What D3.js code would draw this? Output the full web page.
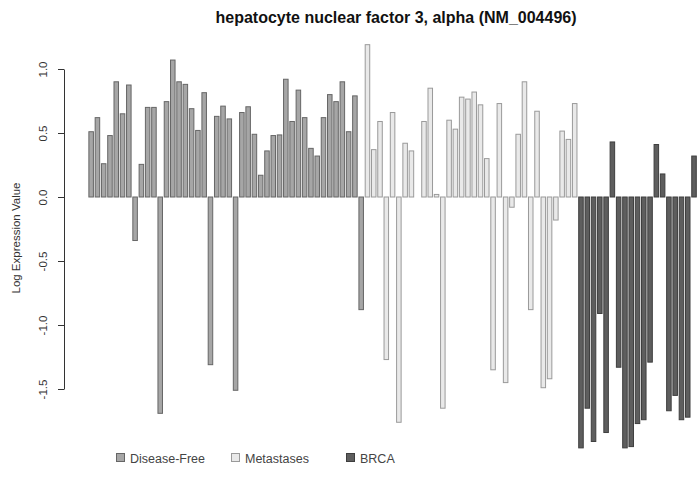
<!DOCTYPE html>
<html>
<head>
<meta charset="utf-8">
<script src="https://cdn.jsdelivr.net/npm/d3@7"></script>
<style>
  html, body { margin: 0; padding: 0; background: #fff; }
  svg { display: block; font-family: "Liberation Sans", Arial, sans-serif; }
</style>
</head>
<body>
<svg id="chart" width="698" height="477"></svg>
<script>
// Log expression values per sample, in plotting order
const diseaseFree = [
  0.51, 0.62, 0.26, 0.48, 0.90, 0.65, 0.875, -0.34, 0.255, 0.70,
  0.70, -1.69, 0.745, 1.07, 0.90, 0.88, 0.69, 0.52, 0.815, -1.31,
  0.63, 0.71, 0.61, -1.51, 0.66, 0.705, 0.49, 0.17, 0.36, 0.48,
  0.485, 0.92, 0.59, 0.835, 0.62, 0.38, 0.32, 0.62, 0.80, 0.745,
  0.90, 0.51, 0.79, -0.88
];
const metastases = [
  1.19, 0.37, 0.59, -1.27, 0.66, -1.76, 0.42, 0.36, 0.00, 0.59,
  0.85, 0.02, -1.65, 0.60, 0.53, 0.78, 0.765, 0.82, 0.72, 0.30,
  -1.35, 0.73, -1.45, -0.08, 0.49, 0.90, -0.88, 0.67, -1.49, -1.42,
  -0.18, 0.515, 0.45, 0.73
];
const brca = [
  -1.96, -1.65, -1.91, -0.91, -1.84, 0.43, -1.33, -1.96, -1.95, -1.77,
  -1.74, -1.29, 0.41, 0.18, -1.67, -1.55, -1.74, -1.72, 0.32
];
const groupNames = ["Disease-Free", "Metastases", "BRCA"];
const yTicks = [-1.5, -1.0, -0.5, 0.0, 0.5, 1.0];
const title = "hepatocyte nuclear factor 3, alpha (NM_004496)";
const yLabel = "Log Expression Value";

const styles = {
  "Disease-Free": { fill: "#a6a6a6", stroke: "#666666" },
  "Metastases":   { fill: "#e9e9e9", stroke: "#9a9a9a" },
  "BRCA":         { fill: "#5e5e5e", stroke: "#3e3e3e" }
};

const samples = [];
[diseaseFree, metastases, brca].forEach((vals, g) => {
  vals.forEach(v => samples.push({ group: groupNames[g], value: v }));
});

const svg = d3.select("#chart");

// Plot region: the bar area runs past the right edge of the page
const plot = { left: 64, right: 728, top: 69, bottom: 389 };
const step = 6.28;
const x = d3.scaleBand()
  .domain(d3.range(samples.length))
  .range([88, 88 + samples.length * step])
  .paddingInner(0.12)
  .paddingOuter(0.06);

const y = d3.scaleLinear().domain([-1.5, 1.0]).range([plot.bottom, plot.top]);

// Bars
svg.append("g")
  .selectAll("rect")
  .data(samples)
  .join("rect")
  .attr("x", (d, i) => x(i) + 0.5)
  .attr("width", x.bandwidth() - 1)
  .attr("y", d => y(Math.max(0, d.value)))
  .attr("height", d => Math.abs(y(d.value) - y(0)))
  .attr("fill", d => styles[d.group].fill)
  .attr("stroke", d => styles[d.group].stroke)
  .attr("stroke-width", 1);

// Y axis with labels parallel to the axis
const yAxis = svg.append("g")
  .attr("transform", `translate(${plot.left},0)`)
  .call(d3.axisLeft(y).tickValues(yTicks).tickSize(6).tickSizeOuter(0)
    .tickFormat(d => d.toFixed(1)));
yAxis.select(".domain").attr("stroke", "#333");
yAxis.selectAll(".tick line").attr("stroke", "#333");
yAxis.selectAll(".tick text")
  .attr("x", null).attr("dy", null)
  .attr("transform", "translate(-17,0) rotate(-90)")
  .attr("text-anchor", "middle")
  .attr("font-size", 11.5)
  .attr("font-family", "Liberation Sans, Arial, sans-serif")
  .attr("fill", "#333");

// Axis title
svg.append("text")
  .attr("transform", "translate(20,238) rotate(-90)")
  .attr("text-anchor", "middle")
  .attr("font-size", 11.5)
  .attr("fill", "#333")
  .text(yLabel);

// Chart title
svg.append("text")
  .attr("x", (plot.left + plot.right) / 2)
  .attr("y", 23)
  .attr("text-anchor", "middle")
  .attr("font-size", 16)
  .attr("font-weight", "bold")
  .attr("fill", "#111")
  .text(title);

// Legend, equally spaced items
const legendStep = 115;
const legend = svg.append("g").attr("transform", "translate(116,458)");
const items = legend.selectAll("g")
  .data(groupNames)
  .join("g")
  .attr("transform", (d, i) => `translate(${i * legendStep},0)`);
items.append("rect")
  .attr("x", 0.5).attr("y", -4.5)
  .attr("width", 8).attr("height", 8)
  .attr("fill", d => styles[d].fill)
  .attr("stroke", d => styles[d].stroke);
items.append("text")
  .attr("x", 14).attr("y", 4.5)
  .attr("font-size", 12.5)
  .attr("fill", "#444")
  .text(d => d);
</script>
</body>
</html>
